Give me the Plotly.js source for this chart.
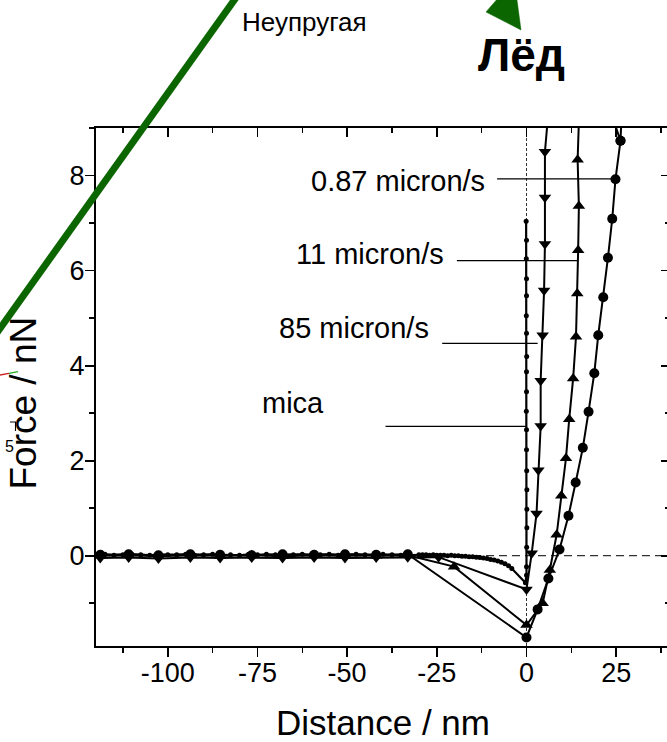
<!DOCTYPE html>
<html><head><meta charset="utf-8">
<script src="https://cdn.plot.ly/plotly-3.0.1.min.js"></script>
<style>html,body{margin:0;padding:0;overflow:hidden;background:#fff}#chart{width:672px;height:742px}</style>
</head><body><div id="chart"></div>
<script>
// ---------- data ----------
const xTickVals = [-100, -75, -50, -25, 0, 25];
const xTickText = ['-100', '-75', '-50', '-25', '0', '25'];
const yTickVals = [0, 2, 4, 6, 8];
const yTickText = ['0', '2', '4', '6', '8'];

const xTitle = 'Distance / nm';
const yTitle = 'Force / nN';
const seriesNames = ['0.87 micron/s', '11 micron/s', '85 micron/s', 'mica'];

// 0.87 micron/s (circles)
const circX = [-118.8,-110.9,-102.6,-93.7,-85.4,-76.6,-68.0,-59.2,-50.6,-41.9,-33.1,
  0, 3.1, 6.1, 9.2, 11.7, 13.7, 15.7, 17.3, 18.9, 20.0, 21.4, 22.7, 23.9, 24.8, 26.2, 26.7, 21.0, 26.2];
const circY = [0.02,0.03,0.01,0.03,0.02,0.01,0.03,0.02,0.03,0.02,0.03,
  -1.72,-1.13,-0.48,0.13,0.84,1.54,2.27,3.03,3.84,4.64,5.44,6.27,7.09,7.92,8.73,9.6,9.9,8.73];

// 11 micron/s (triangles up)
const upX = [-118.8,-110.9,-102.6,-93.7,-85.4,-76.6,-68.0,-59.2,-50.6,-41.9,-33.1,
  -20.2, 0, 4.5, 6.5, 8.4, 9.7, 11.0, 11.9, 13.0, 13.8, 14.15, 14.4, 14.6, 14.25, 14.8];
const upY = [0.00,0.01,-0.01,0.01,0.00,0.01,-0.01,0.01,0.00,0.00,0.01,
  -0.23,-1.46,-1.00,-0.30,0.44,1.26,2.05,2.87,3.73,4.61,5.52,6.43,7.36,8.33,9.6];

// 85 micron/s (triangles down)
const downX = [-118.8,-110.9,-102.6,-93.7,-85.4,-76.6,-68.0,-59.2,-50.6,-41.9,-33.1,
  -24.5, 0, 1.45, 2.8, 3.3, 3.95, 3.95, 4.5, 4.9, 5.14, 5.14, 5.14, 6.4];
const downY = [-0.05,-0.04,-0.06,-0.04,-0.05,-0.04,-0.05,-0.04,-0.05,-0.04,-0.03,
  -0.03,-0.71,0.05,0.89,1.80,2.73,3.68,4.64,5.58,6.56,7.54,8.50,9.6];

// mica (small dots)
const micaX = [-120,-117.5,-115,-112.5,-110,-107.5,-105,-102.5,-100,-97.5,-95,-92.5,-90,-87.5,-85,-82.5,
  -80,-77.5,-75,-72.5,-70,-67.5,-65,-62.5,-60,-57.5,-55,-52.5,-50,-47.5,-45,-42.5,-40,-37.5,-35,-32.5,-30,
  -29,-28,-27,-26,-25,-24,-23,-22,-21,-20,-19,-18,-17,-16,-15,-14,-13,-12,-11,-10,-9,-8,-7,-6,-5,
  -4.1,-0.3,
  0.0,0.0,0.05,0.1,0.1,0.1,0.05,0.0,0.0,-0.05,0.0,0.0,0.05,0.0,-0.05,0.0,0.0,-0.05,0.0,-0.1];
const micaY = [0.02,0.03,0.01,0.02,0.03,0.02,0.01,0.03,0.02,0.02,0.03,0.01,0.02,0.03,0.02,0.02,
  0.01,0.03,0.02,0.03,0.02,0.01,0.02,0.03,0.02,0.02,0.03,0.01,0.02,0.03,0.02,0.02,0.03,0.02,0.01,0.02,0.02,
  0.02,0.02,0.01,0.02,0.01,0.01,0.01,0.00,0.01,0.00,0.00,-0.01,-0.01,-0.02,-0.02,-0.03,-0.04,-0.05,-0.06,-0.08,-0.09,-0.11,-0.14,-0.17,-0.21,
  -0.27,-0.57,
  -0.41,-0.23,0.18,0.59,0.98,1.39,1.79,2.23,2.65,3.04,3.45,3.87,4.19,4.68,5.05,5.47,5.83,6.25,6.64,7.04];

// label positions (data units) and leader lines
const labelX = [-35.8, -43.6, -48.2, -65.1];
const labelY = [7.885, 6.35, 4.80, 3.21];
const leaderY = [7.93, 6.21, 4.466, 2.72];
const leaderX0 = [-8.2, -19.4, -23.5, -39.3];
const leaderX1 = [24.8, 14.3, 3.1, -0.2];

// ---------- drawing ----------
const FONT = 'Liberation Sans, Arial, sans-serif';
const L = 96, T = 128, W = 574, H = 518;
function P(px, py) { return [(px - L) / W, (T + H - py) / H]; }

function series(x, y, sym, size, width, xa, ya) {
  return {x: x, y: y, type: 'scatter', mode: 'lines+markers', xaxis: xa || 'x', yaxis: ya || 'y',
    line: {color: 'black', width: width}, marker: {symbol: sym, size: size, color: 'black'},
    hoverinfo: 'skip', showlegend: false};
}

const traces = [
  series(circX, circY, 'circle', 10, 2),
  series(upX, upY, 'triangle-up', 11, 2),
  series(downX, downY, 'triangle-down', 11, 2),
  series(micaX, micaY, 'circle', 5, 2.2, 'x2', 'y2')
];

const shapes = [];
// zero reference lines
shapes.push({type: 'line', xref: 'x', yref: 'y', x0: -120, x1: 40, y0: 0, y1: 0, layer: 'below',
  line: {color: '#333', width: 1.2, dash: '8px,5px'}});
shapes.push({type: 'line', xref: 'x', yref: 'y', x0: 0, x1: 0, y0: -1.9, y1: 9, layer: 'below',
  line: {color: '#333', width: 1, dash: '3px,2px'}});
// leader lines
for (let i = 0; i < leaderY.length; i++) {
  shapes.push({type: 'line', xref: 'x', yref: 'y', x0: leaderX0[i], x1: leaderX1[i], y0: leaderY[i], y1: leaderY[i],
    line: {color: 'black', width: 1.2}});
}
// green overlay line and arrowhead
const GREEN = '#0c6600';
let a = P(-5, 335.5), b = P(240, -8);
shapes.push({type: 'line', xref: 'paper', yref: 'paper', x0: a[0], y0: a[1], x1: b[0], y1: b[1],
  line: {color: GREEN, width: 7}});
const tri = [P(486, 12), P(521, 30), P(516.2, -6), P(501.6, -6)];
shapes.push({type: 'path', xref: 'paper', yref: 'paper',
  path: 'M' + tri.map(p => p[0] + ',' + p[1]).join(' L') + ' Z',
  fillcolor: GREEN, line: {color: GREEN, width: 0.5}});
// tiny red/green stroke and bracket near the y title
a = P(0, 375); b = P(9, 373.4); let c = P(18, 371.7);
shapes.push({type: 'line', xref: 'paper', yref: 'paper', x0: a[0], y0: a[1], x1: b[0], y1: b[1], line: {color: '#cc2222', width: 1.3}});
shapes.push({type: 'line', xref: 'paper', yref: 'paper', x0: b[0], y0: b[1], x1: c[0], y1: c[1], line: {color: '#22aa22', width: 1.3}});
const br = [P(10, 422), P(15.5, 422), P(15.5, 431)];
shapes.push({type: 'path', xref: 'paper', yref: 'paper',
  path: 'M' + br.map(p => p[0] + ',' + p[1]).join(' L'), line: {color: 'black', width: 1.1}});

const annotations = [];
for (let i = 0; i < seriesNames.length; i++) {
  annotations.push({x: labelX[i], y: labelY[i], xref: 'x', yref: 'y', text: seriesNames[i], showarrow: false,
    xanchor: 'center', yanchor: 'middle', font: {family: FONT, size: 29, color: 'black'}});
}
let q = P(239.5, 22);
annotations.push({x: q[0], y: q[1], xref: 'paper', yref: 'paper', text: 'Неупругая', showarrow: false,
  xanchor: 'left', yanchor: 'middle', font: {family: FONT, size: 26, color: 'black'}});
q = P(521, 54.5);
annotations.push({x: q[0], y: q[1], xref: 'paper', yref: 'paper', text: '<b>Лёд</b>', showarrow: false,
  xanchor: 'center', yanchor: 'middle', font: {family: FONT, size: 46, color: 'black'}});
q = P(9.5, 446);
annotations.push({x: q[0], y: q[1], xref: 'paper', yref: 'paper', text: '5', showarrow: false,
  xanchor: 'center', yanchor: 'middle', font: {family: FONT, size: 16, color: 'black'}});
// y-axis title (placed as in the reference, slightly below the axis centre)
q = P(23.5, 403);
annotations.push({x: q[0], y: q[1], xref: 'paper', yref: 'paper', text: yTitle, textangle: -90, showarrow: false,
  xanchor: 'center', yanchor: 'middle', font: {family: FONT, size: 37, color: 'black'}});

const baseAxis = {showgrid: false, zeroline: false, showline: true, linecolor: 'black', linewidth: 2,
  tickcolor: 'black', tickwidth: 1.8, ticklen: 9, fixedrange: true};

const layout = {
  width: 672, height: 742,
  margin: {l: L, r: 672 - L - W, t: T, b: 742 - T - H},
  paper_bgcolor: 'white', plot_bgcolor: 'rgba(0,0,0,0)',
  font: {family: FONT, color: 'black'},
  showlegend: false,
  xaxis: Object.assign({}, baseAxis, {range: [-120, 40], tickmode: 'array', tickvals: xTickVals, ticktext: xTickText,
    ticks: 'outside', tickfont: {size: 27}, automargin: false, ticklabelstandoff: -7,
    minor: {tickmode: 'linear', tick0: 0, dtick: 12.5, ticks: 'outside', ticklen: 5, tickwidth: 1.5, tickcolor: 'black', showgrid: false},
    title: {text: xTitle, font: {size: 35}, standoff: 27}}),
  yaxis: Object.assign({}, baseAxis, {range: [-1.9, 9], tickmode: 'array', tickvals: yTickVals, ticktext: yTickText,
    ticks: 'outside', tickfont: {size: 27}, automargin: false, ticklabelstandoff: -5,
    minor: {tickmode: 'linear', tick0: 0, dtick: 1, ticks: 'outside', ticklen: 5, tickwidth: 1.5, tickcolor: 'black', showgrid: false}}),
  xaxis2: Object.assign({}, baseAxis, {range: [-120, 40], overlaying: 'x', side: 'top', anchor: 'y2',
    tickmode: 'array', tickvals: xTickVals, ticks: 'inside', showticklabels: false,
    minor: {tickmode: 'linear', tick0: 0, dtick: 12.5, ticks: 'inside', ticklen: 5, tickwidth: 1.5, tickcolor: 'black', showgrid: false}}),
  yaxis2: Object.assign({}, baseAxis, {range: [-1.9, 9], overlaying: 'y', side: 'right', anchor: 'x2',
    tickmode: 'array', tickvals: yTickVals, ticks: 'inside', showticklabels: false,
    minor: {tickmode: 'linear', tick0: 0, dtick: 1, ticks: 'inside', ticklen: 5, tickwidth: 1.5, tickcolor: 'black', showgrid: false}}),
  shapes: shapes,
  annotations: annotations
};

Plotly.newPlot('chart', traces, layout, {displayModeBar: false, staticPlot: true});
</script>
</body></html>
